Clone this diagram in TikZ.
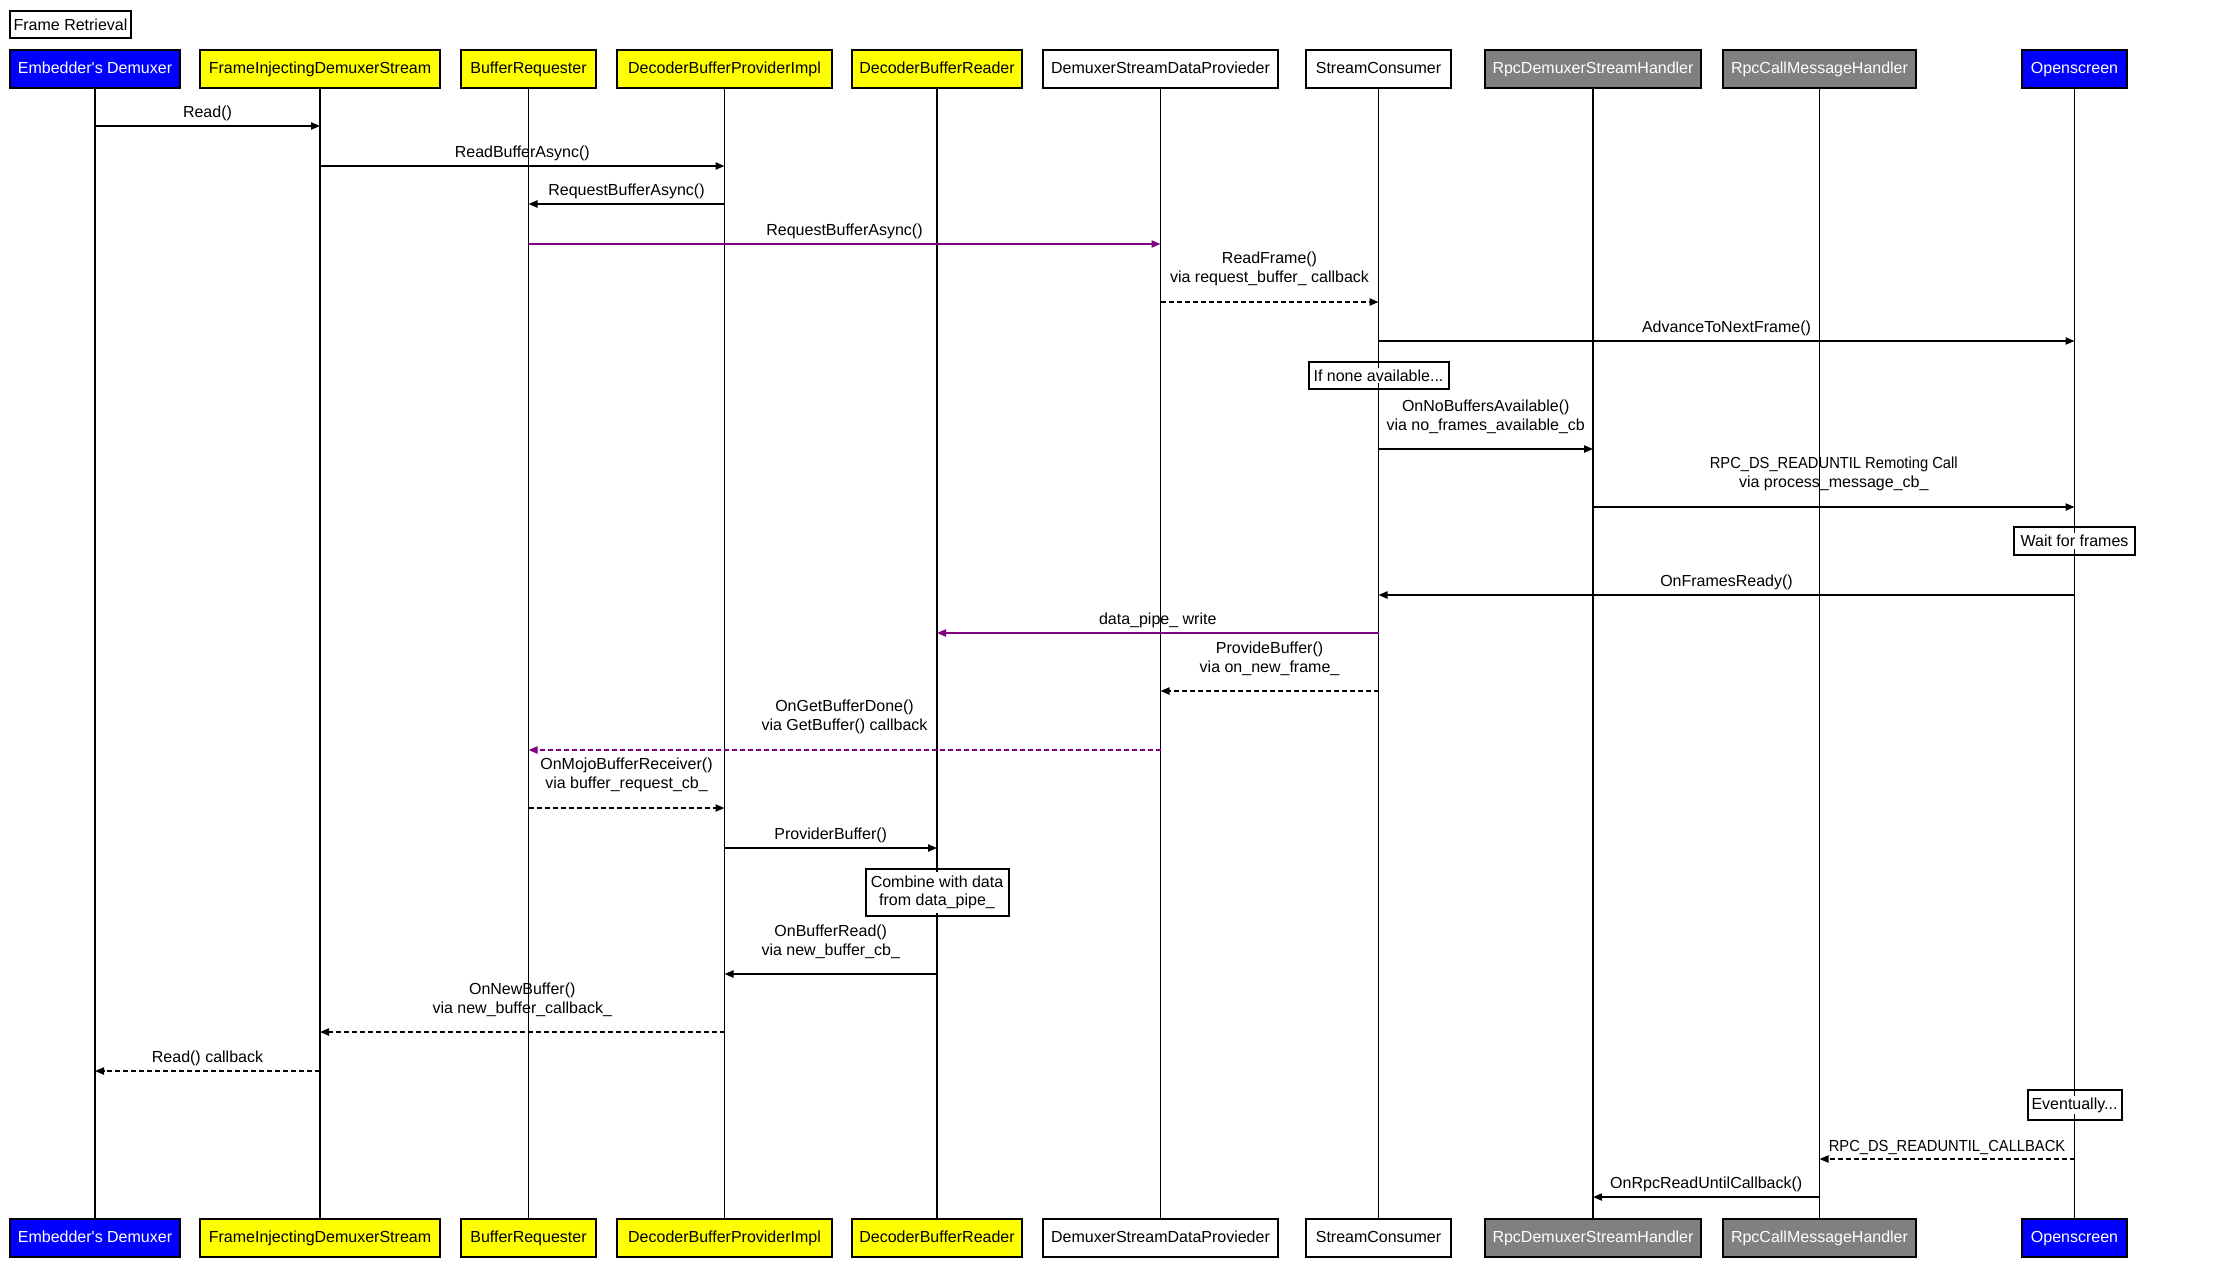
\documentclass[tikz,border=0pt]{standalone}
\usepackage{fontspec}
\setmainfont{Liberation Sans}
\usetikzlibrary{arrows.meta}
\definecolor{actblue}{HTML}{0000FF}
\definecolor{actyellow}{HTML}{FFFF00}
\definecolor{actgray}{HTML}{808080}
\definecolor{msgpurple}{HTML}{800080}
\newcommand\capsnarrow[1]{\scalebox{0.92}[1]{#1}}
\newcommand\onwhite[1]{{\setlength{\fboxsep}{1pt}\colorbox{white}{#1}}}
\begin{document}
\begin{tikzpicture}[x=0.5pt,y=-0.5pt,
  font=\fontsize{8}{9.5}\selectfont,
  actor/.style={draw=black, line width=1pt, minimum height=19pt, inner sep=0pt, text height=5.8pt, text depth=1.6pt},
  life/.style={line width=0.75pt, black},
  msg/.style={line width=0.8pt, -{Triangle[length=4.5pt,width=3.6pt]}},
  reply/.style={msg, dash pattern=on 2.5pt off 1.5pt},
  purple msg/.style={draw=msgpurple, fill=msgpurple},
  lbl/.style={midway, above, inner sep=0pt, yshift=2pt, align=center, text=black},
  lblii/.style={midway, above, inner sep=0pt, yshift=7.5pt, align=center, text=black},
  note/.style={draw=black, line width=1pt, inner sep=1pt, align=center}
]
\useasboundingbox (0,0) rectangle (2226,1276);

\node[note, minimum width=60.5pt, minimum height=13.5pt] (title) at (70.5,24.5) {Frame Retrieval};

\foreach \n/\x/\w/\f/\t/\l in {
  emb/95/170/actblue/white/{Embedder\textquotesingle s Demuxer},
  fids/320/240/actyellow/black/{FrameInjectingDemuxerStream},
  br/528.5/135/actyellow/black/{BufferRequester},
  dbpi/724.5/215/actyellow/black/{DecoderBufferProviderImpl},
  dbr/937/170/actyellow/black/{DecoderBufferReader},
  dsdp/1160.5/235/white/black/{DemuxerStreamDataProvieder},
  sc/1378.5/145/white/black/{StreamConsumer},
  rdsh/1593/216/actgray/white/{RpcDemuxerStreamHandler},
  rcmh/1819.5/193/actgray/white/{RpcCallMessageHandler},
  os/2074.5/105/actblue/white/{Openscreen}} {
  \node[actor, fill=\f, text=\t, minimum width=\w*0.5pt] (\n-top) at (\x,69) {\l};
  \node[actor, fill=\f, text=\t, minimum width=\w*0.5pt] (\n-bot) at (\x,1238) {\l};
}

% lifelines
\foreach \n in {emb,fids,br,dbpi,dbr,dsdp,sc,rdsh,rcmh,os}
  \draw[life] (\n-top.south) -- (\n-bot.north);

% notes (lifeline visible through the box, text on white)
\node[note, minimum width=70pt, minimum height=13.5pt] (n1) at (sc-top |- 0,375.5) {\onwhite{If none available...}};
\node[note, minimum width=60.5pt, minimum height=14pt] (n2) at (os-top |- 0,541) {\onwhite{Wait for frames}};
\node[note, minimum width=71.5pt, minimum height=23.5pt] (n3) at (dbr-top |- 0,892.5) {\onwhite{\begin{tabular}{@{}c@{}}Combine with data\\[-0.6pt]from data\_pipe\_\end{tabular}}};
\node[note, minimum width=47pt, minimum height=15pt] (n4) at (os-top |- 0,1105) {\onwhite{Eventually...}};

% messages
\draw[msg] (emb-top |- 0,126) -- node[lbl]{Read()} (fids-top |- 0,126);
\draw[msg] (fids-top |- 0,166) -- node[lbl]{ReadBufferAsync()} (dbpi-top |- 0,166);
\draw[msg] (dbpi-top |- 0,204) -- node[lbl]{RequestBufferAsync()} (br-top |- 0,204);
\draw[msg, purple msg] (br-top |- 0,244) -- node[lbl]{RequestBufferAsync()} (dsdp-top |- 0,244);
\draw[reply] (dsdp-top |- 0,302) -- node[lblii]{ReadFrame()\\via request\_buffer\_ callback} (sc-top |- 0,302);
\draw[msg] (sc-top |- 0,341) -- node[lbl]{AdvanceToNextFrame()} (os-top |- 0,341);
\draw[msg] (sc-top |- 0,449) -- node[lblii]{OnNoBuffersAvailable()\\via no\_frames\_available\_cb} (rdsh-top |- 0,449);
\draw[msg] (rdsh-top |- 0,507) -- node[lblii]{\capsnarrow{RPC\_DS\_READUNTIL Remoting Call}\\via process\_message\_cb\_} (os-top |- 0,507);
\draw[msg] (os-top |- 0,595) -- node[lbl]{OnFramesReady()} (sc-top |- 0,595);
\draw[msg, purple msg] (sc-top |- 0,633) -- node[lbl]{data\_pipe\_ write} (dbr-top |- 0,633);
\draw[reply] (sc-top |- 0,691) -- node[lblii]{ProvideBuffer()\\via on\_new\_frame\_} (dsdp-top |- 0,691);
\draw[reply, purple msg] (dsdp-top |- 0,750) -- node[lblii]{OnGetBufferDone()\\via GetBuffer() callback} (br-top |- 0,750);
\draw[reply] (br-top |- 0,808) -- node[lblii]{OnMojoBufferReceiver()\\via buffer\_request\_cb\_} (dbpi-top |- 0,808);
\draw[msg] (dbpi-top |- 0,848) -- node[lbl]{ProviderBuffer()} (dbr-top |- 0,848);
\draw[msg] (dbr-top |- 0,974) -- node[lblii]{OnBufferRead()\\via new\_buffer\_cb\_} (dbpi-top |- 0,974);
\draw[reply] (dbpi-top |- 0,1032) -- node[lblii]{OnNewBuffer()\\via new\_buffer\_callback\_} (fids-top |- 0,1032);
\draw[reply] (fids-top |- 0,1071) -- node[lbl]{Read() callback} (emb-top |- 0,1071);
\draw[reply] (os-top |- 0,1159) -- node[lbl]{\capsnarrow{RPC\_DS\_READUNTIL\_CALLBACK}} (rcmh-top |- 0,1159);
\draw[msg] (rcmh-top |- 0,1197) -- node[lbl]{OnRpcReadUntilCallback()} (rdsh-top |- 0,1197);
\end{tikzpicture}
\end{document}
